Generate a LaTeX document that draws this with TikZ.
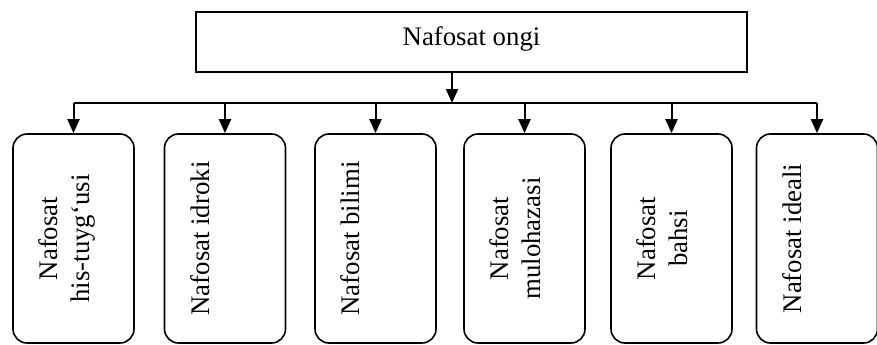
\documentclass[tikz,border=0pt]{standalone}
\usepackage{fontspec}
\setmainfont{Liberation Serif}
\usetikzlibrary{arrows.meta}
\usetikzlibrary{calc}

\begin{document}
\begin{tikzpicture}[x=0.5pt, y=0.5pt,
    font=\fontsize{13.4}{16}\selectfont,
    topbox/.style={draw, line width=0.8pt, minimum width=275.5pt, minimum height=30pt, text depth=6pt},
    subbox/.style={draw, line width=0.8pt, rounded corners=7pt, minimum width=60.5pt, minimum height=104.5pt},
    subtext/.style={rotate=90, anchor=north, align=center, inner sep=0pt},
    arr/.style={line width=1pt, -{Triangle[length=7pt, width=6pt]}}]
    \useasboundingbox (0,0) rectangle (877,344);
    \node[topbox] (top) at (471.5,302) {Nafosat ongi};
    \coordinate (bus) at (452,241);
    % six branches
    \foreach \x/\txt [count=\i] in {73.5/{Nafosat\\his-tuyg‘usi}, 225/{Nafosat idroki},
        375.5/{Nafosat bilimi}, 524.5/{Nafosat\\mulohazasi}, 671.5/{Nafosat\\bahsi}, 817/{Nafosat ideali}} {
        \node[subbox] (b\i) at (\x,105.5) {};
        \node[subtext] (t\i) at ($(b\i.west)+(26.5,0)$) {\txt};
    }
    \draw[arr] (top.south -| bus) -- (bus);
    \draw[line width=1pt] (b1.north |- bus) -- (b6.north |- bus);
    \foreach \i in {1,...,6}
        \draw[arr] (b\i.north |- bus) -- (b\i.north);
\end{tikzpicture}
\end{document}
